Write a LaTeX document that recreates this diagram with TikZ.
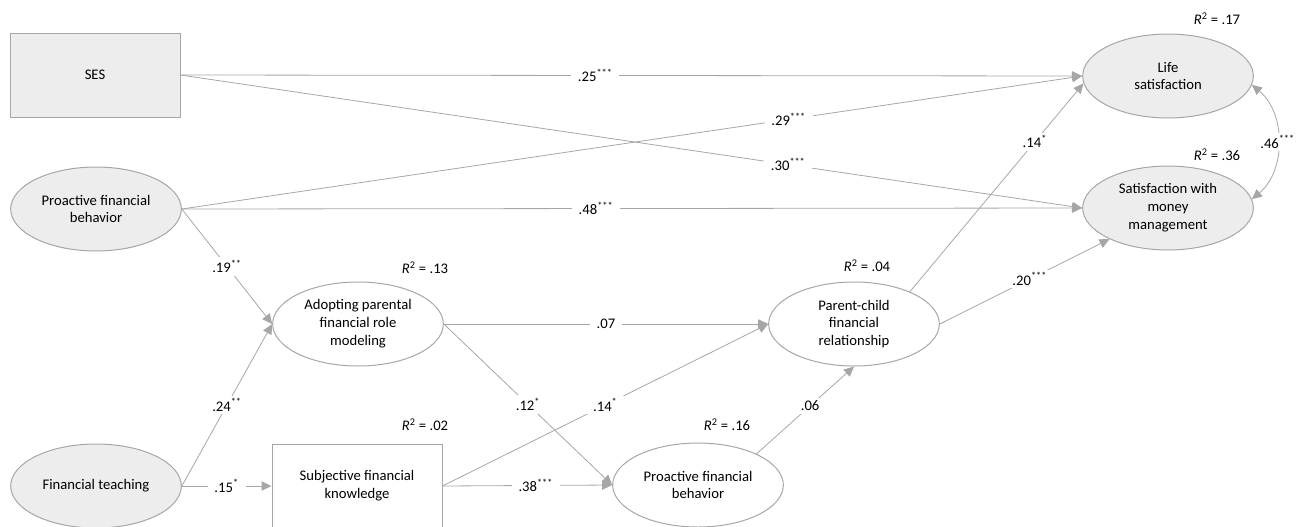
\documentclass[tikz,border=0pt]{standalone}
\usepackage{fontspec}
\setmainfont{Carlito}
\usetikzlibrary{arrows.meta,shapes.geometric}
\definecolor{lineGray}{RGB}{166,166,166}
\definecolor{fillGray}{RGB}{237,237,237}

\begin{document}
\begin{tikzpicture}[x=0.75pt,y=-0.75pt,
  font=\fontsize{11}{13.4}\selectfont,
  latent/.style={ellipse,draw=lineGray,line width=0.75pt,minimum width=128pt,minimum height=63pt,align=center,inner sep=0pt},
  observed/.style={rectangle,draw=lineGray,line width=0.75pt,minimum width=127.5pt,minimum height=63pt,align=center},
  exo/.style={fill=fillGray},
  effect/.style={draw=lineGray,line width=0.6pt,-{Triangle[length=7.5pt,width=7pt]}},
  corr/.style={draw=lineGray,line width=0.6pt,{Triangle[length=7.5pt,width=7pt]}-{Triangle[length=7.5pt,width=7pt]}},
  coef/.style={fill=white,inner xsep=5pt,inner ysep=2pt},
  rsq/.style={inner sep=0pt}]
  \useasboundingbox (0,0) rectangle (1300,526);
  \clip (0,0) rectangle (1300,526);

  \node[observed,exo] (ses) at (95,75) {SES};
  \node[latent,exo] (pfb) at (96,209) {Proactive financial\\behavior};
  \node[latent,exo] (ft) at (96,486) {Financial teaching};
  \node[latent] (apr) at (358,324) {Adopting parental\\financial role\\modeling};
  \node[observed] (sfk) at (357,486) {Subjective financial\\knowledge};
  \node[latent] (pfbt) at (698,485) {Proactive financial\\behavior};
  \node[latent] (pcr) at (854,324) {Parent-child\\financial\\relationship};
  \node[latent,exo] (ls) at (1168,76) {Life\\satisfaction};
  \node[latent,exo] (smm) at (1168,208) {Satisfaction with\\money\\management};

  \node[rsq] at (1217,19) {\textit{R}\textsuperscript{2} = .17};
  \node[rsq] at (1217,155) {\textit{R}\textsuperscript{2} = .36};
  \node[rsq] at (425,268) {\textit{R}\textsuperscript{2} = .13};
  \node[rsq] at (425,425) {\textit{R}\textsuperscript{2} = .02};
  \node[rsq] at (867,266) {\textit{R}\textsuperscript{2} = .04};
  \node[rsq] at (727,425) {\textit{R}\textsuperscript{2} = .16};

  \draw[effect] (ses.east) -- (ls.west) node[coef,pos=.46] {.25\textsuperscript{***}};
  \draw[effect] (ses.east) -- (smm.west) node[coef,pos=.674] {.30\textsuperscript{***}};
  \draw[effect] (pfb.east) -- (ls.west) node[coef,pos=.674] {.29\textsuperscript{***}};
  \draw[effect] (pfb.east) -- (smm.west) node[coef,pos=.46] {.48\textsuperscript{***}};
  \draw[effect] (pfb.east) -- (apr.west) node[coef,midway] {.19\textsuperscript{**}};
  \draw[effect] (ft.east) -- (apr.west) node[coef,midway] {.24\textsuperscript{**}};
  \draw[effect] (ft.east) -- (sfk.west) node[coef,midway] {.15\textsuperscript{*}};
  \draw[effect] (apr.east) -- (pcr.west) node[coef,midway] {.07};
  \draw[effect] (apr.east) -- (pfbt.west) node[coef,pos=.5] {.12\textsuperscript{*}};
  \draw[effect] (sfk.east) -- (pcr.west) node[coef,pos=.5] {.14\textsuperscript{*}};
  \draw[effect] (sfk.east) -- (pfbt.west) node[coef,pos=.55] {.38\textsuperscript{***}};
  \draw[effect] (pfbt.28) -- (pcr.south) node[coef,pos=.55] {.06};
  \draw[effect] (pcr.30) -- (ls.185) node[coef,pos=.72] {.14\textsuperscript{*}};
  \draw[effect] (pcr.east) -- (smm.208) node[coef,pos=.53] {.20\textsuperscript{***}};
  \draw[corr] (ls.-6) to[bend left=50] node[coef,inner xsep=1pt] {.46\textsuperscript{***}} (smm.6);
\end{tikzpicture}
\end{document}
